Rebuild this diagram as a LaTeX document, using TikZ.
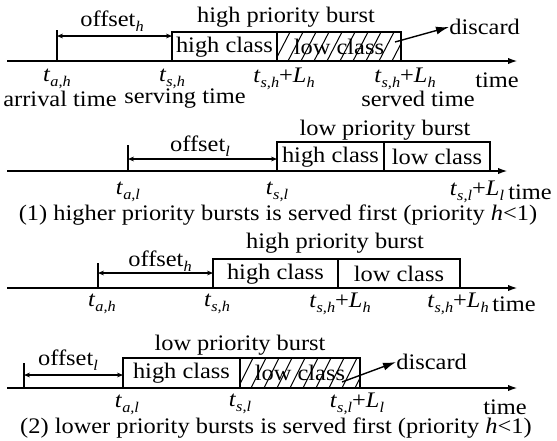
\documentclass[tikz,border=0pt]{standalone}
\usepackage{fontspec}
\setmainfont{Liberation Serif}[FakeStretch=1.1]
\usetikzlibrary{arrows.meta}
% italic subscripts and time symbols
\newcommand\sbs[1]{\raisebox{-0.45ex}{\fontsize{7.4}{8}\selectfont\itshape #1}}
\newcommand\tv[1]{\textit{t}\sbs{#1}}
\newcommand\tvL[2]{\textit{t}\sbs{#1}+\textit{L}\sbs{#2}}

\begin{document}
\begin{tikzpicture}[x=0.5pt,y=-0.5pt,
  font=\fontsize{11.1}{13}\selectfont,
  axis/.style={line width=1pt,-{Latex[length=5pt,width=3.2pt]}},
  tick/.style={line width=0.7pt},
  span/.style={line width=0.6pt,{Stealth[length=3pt,width=2.4pt]}-{Stealth[length=3pt,width=2.4pt]}},
  part/.style={draw,line width=1.4pt},
  hatch/.style={line width=0.5pt},
  toss/.style={line width=0.7pt,-{Latex[length=6.5pt,width=4pt]}},
  lbl/.style={inner sep=0pt}]
\useasboundingbox (0,0) rectangle (557,440);

% ---------- (1a) high priority burst ----------
\coordinate (o1) at (7,61);
\coordinate (e1) at (518,61);
\draw[axis] (o1) -- (e1);
\draw[tick] (57,61) coordinate (a1) -- (57,30) coordinate (a1t);
\draw[span] (57,36) coordinate (p1) -- (172,36) coordinate (q1);
\begin{scope}
  \clip (277,32) rectangle (401,61);
  \foreach \x in {262,275,...,410} \draw[hatch] (\x,61) -- ++(15,-29);
\end{scope}
\draw[part] (172,32) rectangle (277,61);
\draw[part] (277,32) rectangle (401,61);
\node[lbl] (h1) at (224.5,47) {high class};
\node[lbl] (l1) at (339,47) {low class};
\node[lbl] (b1) at (286,17) {high priority burst};
\node[lbl] (f1) at (112,21) {offset\sbs{h}};
\node[lbl,anchor=west] (d1) at (449,27) {discard};
\coordinate (dd1) at (395,42);
\draw[toss] (dd1) -- (d1.west);
\node[lbl] (ta1) at (57,79) {\tv{a,h}};
\node[lbl] (ts1) at (172,79) {\tv{s,h}};
\node[lbl] (tl1) at (284,79) {\tvL{s,h}{h}};
\node[lbl] (tm1) at (405,79) {\tvL{s,h}{h}};
\node[lbl] (ti1) at (497,80) {time};
\node[lbl] (n1) at (60,99) {arrival time};
\node[lbl] (n2) at (185,99) {serving time};
\node[lbl] (n3) at (418,99) {served time};

% ---------- (1b) low priority burst ----------
\coordinate (o2) at (7,171);
\coordinate (e2) at (508,171);
\draw[axis] (o2) -- (e2);
\draw[tick] (128,171) coordinate (a2) -- (128,145) coordinate (a2t);
\draw[span] (128,159) coordinate (p2) -- (277,159) coordinate (q2);
\draw[part] (277,142) rectangle (384,171);
\draw[part] (384,142) rectangle (490,171);
\node[lbl] (h2) at (330.5,157) {high class};
\node[lbl] (l2) at (437,157) {low class};
\node[lbl] (b2) at (385,130) {low priority burst};
\node[lbl] (f2) at (200,146) {offset\sbs{l}};
\node[lbl] (ta2) at (128,192) {\tv{a,l}};
\node[lbl] (ts2) at (277,192) {\tv{s,l}};
\node[lbl] (tl2) at (477,192) {\tvL{s,l}{l}};
\node[lbl] (ti2) at (530,192) {time};
\node[lbl] (c1) at (278,215) {(1) higher priority bursts is served first (priority \textit{h}<1)};

% ---------- (2a) high priority burst ----------
\coordinate (o3) at (7,288);
\coordinate (e3) at (518,288);
\draw[axis] (o3) -- (e3);
\draw[tick] (98,288) coordinate (a3) -- (98,263) coordinate (a3t);
\draw[span] (98,273) coordinate (p3) -- (213,273) coordinate (q3);
\draw[part] (213,259) rectangle (338,288);
\draw[part] (338,259) rectangle (460,288);
\node[lbl] (h3) at (275.5,274) {high class};
\node[lbl] (l3) at (399,274) {low class};
\node[lbl] (b3) at (335,243) {high priority burst};
\node[lbl] (f3) at (160,261) {offset\sbs{h}};
\node[lbl] (ta3) at (102,304) {\tv{a,h}};
\node[lbl] (ts3) at (217,304) {\tv{s,h}};
\node[lbl] (tl3) at (340,304) {\tvL{s,h}{h}};
\node[lbl] (tm3) at (458,304) {\tvL{s,h}{h}};
\node[lbl] (ti3) at (514,304) {time};

% ---------- (2b) low priority burst ----------
\coordinate (o4) at (7,388);
\coordinate (e4) at (518,388);
\draw[axis] (o4) -- (e4);
\draw[tick] (24,388) coordinate (a4) -- (24,363) coordinate (a4t);
\draw[span] (24,375) coordinate (p4) -- (123,375) coordinate (q4);
\begin{scope}
  \clip (240,358) rectangle (360,388);
  \foreach \x in {225,238,...,370} \draw[hatch] (\x,388) -- ++(15,-30);
\end{scope}
\draw[part] (123,358) rectangle (240,388);
\draw[part] (240,358) rectangle (360,388);
\node[lbl] (h4) at (181.5,373) {high class};
\node[lbl] (l4) at (300,373) {low class};
\node[lbl] (b4) at (240,345) {low priority burst};
\node[lbl] (f4) at (68,360) {offset\sbs{l}};
\node[lbl,anchor=west] (d4) at (396,362) {discard};
\coordinate (dd4) at (342,382);
\draw[toss] (dd4) -- (d4.west);
\node[lbl] (ta4) at (127,405) {\tv{a,l}};
\node[lbl] (ts4) at (240,404) {\tv{s,l}};
\node[lbl] (tl4) at (357,404) {\tvL{s,l}{l}};
\node[lbl] (ti4) at (505,407) {time};
\node[lbl] (c2) at (276,428) {(2) lower priority bursts is served first (priority \textit{h}<1)};
\end{tikzpicture}
\end{document}
